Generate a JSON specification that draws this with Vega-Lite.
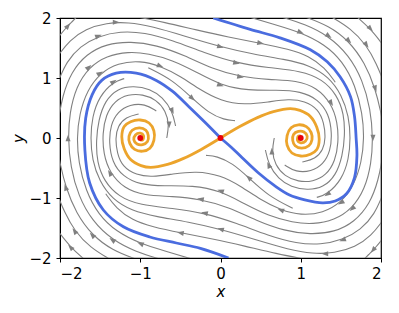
{
"$schema":"https://vega.github.io/schema/vega-lite/v6.json",
"width":321,"height":240,
"autosize":{"type":"none"},
"padding":{"left":60,"top":18,"right":18,"bottom":55},
"config":{"view":{"stroke":"black","strokeWidth":1.2},"font":"DejaVu Sans",
 "axis":{"grid":false,"tickSize":4,"tickColor":"black","domainColor":"black","labelFontSize":15,"labelColor":"black","titleColor":"black","titleFontSize":15,"titleFontWeight":"normal","titleFontStyle":"italic","labelFont":"DejaVu Sans","titleFont":"DejaVu Sans"}},
"datasets":{
"stream":[
{"k":"S0","i":0,"x":-0.9,"y":1.17},{"k":"S0","i":1,"x":-0.6,"y":0.97},{"k":"S0","i":2,"x":-0.35,"y":0.66},{"k":"S0","i":3,"x":-0.15,"y":0.42},{"k":"S0","i":4,"x":0.05,"y":0.3},{"k":"S0","i":5,"x":0.18,"y":0.29},
{"k":"S1","i":0,"x":-0.35,"y":-2.02},{"k":"S1","i":1,"x":-0.7,"y":-1.88},{"k":"S1","i":2,"x":-1.0,"y":-1.76},{"k":"S1","i":3,"x":-1.3,"y":-1.56},{"k":"S1","i":4,"x":-1.52,"y":-1.28},{"k":"S1","i":5,"x":-1.68,"y":-0.88},{"k":"S1","i":6,"x":-1.77,"y":-0.4},{"k":"S1","i":7,"x":-1.79,"y":0.0},{"k":"S1","i":8,"x":-1.76,"y":0.4},{"k":"S1","i":9,"x":-1.66,"y":0.8},{"k":"S1","i":10,"x":-1.5,"y":1.08},{"k":"S1","i":11,"x":-1.28,"y":1.25},{"k":"S1","i":12,"x":-1.0,"y":1.29},{"k":"S1","i":13,"x":-0.75,"y":1.2},{"k":"S1","i":14,"x":-0.5,"y":1.03},{"k":"S1","i":15,"x":-0.25,"y":0.8},{"k":"S1","i":16,"x":0.0,"y":0.62},{"k":"S1","i":17,"x":0.3,"y":0.55},{"k":"S1","i":18,"x":0.6,"y":0.6},{"k":"S1","i":19,"x":0.85,"y":0.65},{"k":"S1","i":20,"x":1.05,"y":0.62},{"k":"S1","i":21,"x":1.22,"y":0.48},{"k":"S1","i":22,"x":1.29,"y":0.25},{"k":"S1","i":23,"x":1.31,"y":0.0},{"k":"S1","i":24,"x":1.28,"y":-0.2},{"k":"S1","i":25,"x":1.18,"y":-0.35},{"k":"S1","i":26,"x":1.02,"y":-0.4},
{"k":"S2","i":0,"x":-0.75,"y":-2.02},{"k":"S2","i":1,"x":-1.05,"y":-1.9},{"k":"S2","i":2,"x":-1.35,"y":-1.7},{"k":"S2","i":3,"x":-1.6,"y":-1.38},{"k":"S2","i":4,"x":-1.77,"y":-0.97},{"k":"S2","i":5,"x":-1.87,"y":-0.48},{"k":"S2","i":6,"x":-1.9,"y":0.0},{"k":"S2","i":7,"x":-1.88,"y":0.42},{"k":"S2","i":8,"x":-1.8,"y":0.85},{"k":"S2","i":9,"x":-1.64,"y":1.18},{"k":"S2","i":10,"x":-1.42,"y":1.37},{"k":"S2","i":11,"x":-1.15,"y":1.44},{"k":"S2","i":12,"x":-0.9,"y":1.41},{"k":"S2","i":13,"x":-0.6,"y":1.3},{"k":"S2","i":14,"x":-0.3,"y":1.1},{"k":"S2","i":15,"x":0.0,"y":0.88},{"k":"S2","i":16,"x":0.35,"y":0.79},{"k":"S2","i":17,"x":0.7,"y":0.8},{"k":"S2","i":18,"x":1.0,"y":0.78},{"k":"S2","i":19,"x":1.22,"y":0.64},{"k":"S2","i":20,"x":1.35,"y":0.4},{"k":"S2","i":21,"x":1.39,"y":0.08},{"k":"S2","i":22,"x":1.37,"y":-0.22},{"k":"S2","i":23,"x":1.28,"y":-0.44},{"k":"S2","i":24,"x":1.13,"y":-0.56},{"k":"S2","i":25,"x":0.94,"y":-0.57},{"k":"S2","i":26,"x":0.8,"y":-0.45},
{"k":"S3","i":0,"x":-2.02,"y":0.3},{"k":"S3","i":1,"x":-1.97,"y":0.7},{"k":"S3","i":2,"x":-1.86,"y":1.1},{"k":"S3","i":3,"x":-1.67,"y":1.4},{"k":"S3","i":4,"x":-1.42,"y":1.57},{"k":"S3","i":5,"x":-1.12,"y":1.61},{"k":"S3","i":6,"x":-0.8,"y":1.55},{"k":"S3","i":7,"x":-0.45,"y":1.38},{"k":"S3","i":8,"x":-0.1,"y":1.15},{"k":"S3","i":9,"x":0.25,"y":1.02},{"k":"S3","i":10,"x":0.6,"y":0.97},{"k":"S3","i":11,"x":0.95,"y":0.96},{"k":"S3","i":12,"x":1.2,"y":0.84},{"k":"S3","i":13,"x":1.38,"y":0.58},{"k":"S3","i":14,"x":1.46,"y":0.26},{"k":"S3","i":15,"x":1.47,"y":-0.08},{"k":"S3","i":16,"x":1.43,"y":-0.38},{"k":"S3","i":17,"x":1.32,"y":-0.62},{"k":"S3","i":18,"x":1.15,"y":-0.73},{"k":"S3","i":19,"x":0.97,"y":-0.73},{"k":"S3","i":20,"x":0.8,"y":-0.64},{"k":"S3","i":21,"x":0.68,"y":-0.45},{"k":"S3","i":22,"x":0.64,"y":-0.22},{"k":"S3","i":23,"x":0.67,"y":0.0},
{"k":"S4","i":0,"x":-2.02,"y":0.95},{"k":"S4","i":1,"x":-1.92,"y":1.27},{"k":"S4","i":2,"x":-1.75,"y":1.53},{"k":"S4","i":3,"x":-1.52,"y":1.7},{"k":"S4","i":4,"x":-1.25,"y":1.78},{"k":"S4","i":5,"x":-0.95,"y":1.76},{"k":"S4","i":6,"x":-0.6,"y":1.63},{"k":"S4","i":7,"x":-0.2,"y":1.42},{"k":"S4","i":8,"x":0.2,"y":1.25},{"k":"S4","i":9,"x":0.6,"y":1.17},{"k":"S4","i":10,"x":1.0,"y":1.12},{"k":"S4","i":11,"x":1.27,"y":0.98},{"k":"S4","i":12,"x":1.45,"y":0.72},{"k":"S4","i":13,"x":1.54,"y":0.4},{"k":"S4","i":14,"x":1.55,"y":0.04},{"k":"S4","i":15,"x":1.52,"y":-0.3},{"k":"S4","i":16,"x":1.44,"y":-0.62},{"k":"S4","i":17,"x":1.28,"y":-0.83},{"k":"S4","i":18,"x":1.08,"y":-0.87},{"k":"S4","i":19,"x":0.88,"y":-0.82},{"k":"S4","i":20,"x":0.72,"y":-0.68},{"k":"S4","i":21,"x":0.6,"y":-0.45},{"k":"S4","i":22,"x":0.56,"y":-0.2},
{"k":"S5","i":0,"x":-2.02,"y":1.38},{"k":"S5","i":1,"x":-1.88,"y":1.63},{"k":"S5","i":2,"x":-1.68,"y":1.82},{"k":"S5","i":3,"x":-1.42,"y":1.92},{"k":"S5","i":4,"x":-1.15,"y":1.93},{"k":"S5","i":5,"x":-0.85,"y":1.86},{"k":"S5","i":6,"x":-0.45,"y":1.7},{"k":"S5","i":7,"x":0.0,"y":1.52},{"k":"S5","i":8,"x":0.4,"y":1.4},{"k":"S5","i":9,"x":0.8,"y":1.31},{"k":"S5","i":10,"x":1.1,"y":1.22},{"k":"S5","i":11,"x":1.35,"y":1.02},{"k":"S5","i":12,"x":1.51,"y":0.72},{"k":"S5","i":13,"x":1.6,"y":0.36},{"k":"S5","i":14,"x":1.62,"y":0.0},{"k":"S5","i":15,"x":1.6,"y":-0.35},{"k":"S5","i":16,"x":1.51,"y":-0.7},{"k":"S5","i":17,"x":1.33,"y":-0.94},{"k":"S5","i":18,"x":1.2,"y":-0.99},
{"k":"S6","i":0,"x":-1.05,"y":2.02},{"k":"S6","i":1,"x":-0.7,"y":1.93},{"k":"S6","i":2,"x":-0.3,"y":1.8},{"k":"S6","i":3,"x":0.1,"y":1.68},{"k":"S6","i":4,"x":0.5,"y":1.58},{"k":"S6","i":5,"x":0.85,"y":1.48},{"k":"S6","i":6,"x":1.1,"y":1.37},{"k":"S6","i":7,"x":1.3,"y":1.17},{"k":"S6","i":8,"x":1.43,"y":0.93},
{"k":"E1","i":0,"x":-2.02,"y":1.68},{"k":"E1","i":1,"x":-1.93,"y":1.83},{"k":"E1","i":2,"x":-1.84,"y":1.95},{"k":"E1","i":3,"x":-1.79,"y":2.02},
{"k":"X1","i":0,"x":-1.05,"y":-2.02},{"k":"X1","i":1,"x":-1.35,"y":-1.87},{"k":"X1","i":2,"x":-1.6,"y":-1.62},{"k":"X1","i":3,"x":-1.8,"y":-1.25},{"k":"X1","i":4,"x":-1.93,"y":-0.82},{"k":"X1","i":5,"x":-2.0,"y":-0.42},{"k":"X1","i":6,"x":-2.02,"y":-0.25},
{"k":"X2","i":0,"x":-1.38,"y":-2.02},{"k":"X2","i":1,"x":-1.62,"y":-1.83},{"k":"X2","i":2,"x":-1.82,"y":-1.55},{"k":"X2","i":3,"x":-1.95,"y":-1.22},{"k":"X2","i":4,"x":-2.02,"y":-0.98},
{"k":"X3","i":0,"x":-1.7,"y":-2.02},{"k":"X3","i":1,"x":-1.87,"y":-1.82},{"k":"X3","i":2,"x":-2.02,"y":-1.56},
{"k":"S0m","i":0,"x":0.9,"y":-1.17},{"k":"S0m","i":1,"x":0.6,"y":-0.97},{"k":"S0m","i":2,"x":0.35,"y":-0.66},{"k":"S0m","i":3,"x":0.15,"y":-0.42},{"k":"S0m","i":4,"x":-0.05,"y":-0.3},{"k":"S0m","i":5,"x":-0.18,"y":-0.29},
{"k":"S1m","i":0,"x":0.35,"y":2.02},{"k":"S1m","i":1,"x":0.7,"y":1.88},{"k":"S1m","i":2,"x":1.0,"y":1.76},{"k":"S1m","i":3,"x":1.3,"y":1.56},{"k":"S1m","i":4,"x":1.52,"y":1.28},{"k":"S1m","i":5,"x":1.68,"y":0.88},{"k":"S1m","i":6,"x":1.77,"y":0.4},{"k":"S1m","i":7,"x":1.79,"y":0.0},{"k":"S1m","i":8,"x":1.76,"y":-0.4},{"k":"S1m","i":9,"x":1.66,"y":-0.8},{"k":"S1m","i":10,"x":1.5,"y":-1.08},{"k":"S1m","i":11,"x":1.28,"y":-1.25},{"k":"S1m","i":12,"x":1.0,"y":-1.29},{"k":"S1m","i":13,"x":0.75,"y":-1.2},{"k":"S1m","i":14,"x":0.5,"y":-1.03},{"k":"S1m","i":15,"x":0.25,"y":-0.8},{"k":"S1m","i":16,"x":0.0,"y":-0.62},{"k":"S1m","i":17,"x":-0.3,"y":-0.55},{"k":"S1m","i":18,"x":-0.6,"y":-0.6},{"k":"S1m","i":19,"x":-0.85,"y":-0.65},{"k":"S1m","i":20,"x":-1.05,"y":-0.62},{"k":"S1m","i":21,"x":-1.22,"y":-0.48},{"k":"S1m","i":22,"x":-1.29,"y":-0.25},{"k":"S1m","i":23,"x":-1.31,"y":0.0},{"k":"S1m","i":24,"x":-1.28,"y":0.2},{"k":"S1m","i":25,"x":-1.18,"y":0.35},{"k":"S1m","i":26,"x":-1.02,"y":0.4},
{"k":"S2m","i":0,"x":0.75,"y":2.02},{"k":"S2m","i":1,"x":1.05,"y":1.9},{"k":"S2m","i":2,"x":1.35,"y":1.7},{"k":"S2m","i":3,"x":1.6,"y":1.38},{"k":"S2m","i":4,"x":1.77,"y":0.97},{"k":"S2m","i":5,"x":1.87,"y":0.48},{"k":"S2m","i":6,"x":1.9,"y":0.0},{"k":"S2m","i":7,"x":1.88,"y":-0.42},{"k":"S2m","i":8,"x":1.8,"y":-0.85},{"k":"S2m","i":9,"x":1.64,"y":-1.18},{"k":"S2m","i":10,"x":1.42,"y":-1.37},{"k":"S2m","i":11,"x":1.15,"y":-1.44},{"k":"S2m","i":12,"x":0.9,"y":-1.41},{"k":"S2m","i":13,"x":0.6,"y":-1.3},{"k":"S2m","i":14,"x":0.3,"y":-1.1},{"k":"S2m","i":15,"x":0.0,"y":-0.88},{"k":"S2m","i":16,"x":-0.35,"y":-0.79},{"k":"S2m","i":17,"x":-0.7,"y":-0.8},{"k":"S2m","i":18,"x":-1.0,"y":-0.78},{"k":"S2m","i":19,"x":-1.22,"y":-0.64},{"k":"S2m","i":20,"x":-1.35,"y":-0.4},{"k":"S2m","i":21,"x":-1.39,"y":-0.08},{"k":"S2m","i":22,"x":-1.37,"y":0.22},{"k":"S2m","i":23,"x":-1.28,"y":0.44},{"k":"S2m","i":24,"x":-1.13,"y":0.56},{"k":"S2m","i":25,"x":-0.94,"y":0.57},{"k":"S2m","i":26,"x":-0.8,"y":0.45},
{"k":"S3m","i":0,"x":2.02,"y":-0.3},{"k":"S3m","i":1,"x":1.97,"y":-0.7},{"k":"S3m","i":2,"x":1.86,"y":-1.1},{"k":"S3m","i":3,"x":1.67,"y":-1.4},{"k":"S3m","i":4,"x":1.42,"y":-1.57},{"k":"S3m","i":5,"x":1.12,"y":-1.61},{"k":"S3m","i":6,"x":0.8,"y":-1.55},{"k":"S3m","i":7,"x":0.45,"y":-1.38},{"k":"S3m","i":8,"x":0.1,"y":-1.15},{"k":"S3m","i":9,"x":-0.25,"y":-1.02},{"k":"S3m","i":10,"x":-0.6,"y":-0.97},{"k":"S3m","i":11,"x":-0.95,"y":-0.96},{"k":"S3m","i":12,"x":-1.2,"y":-0.84},{"k":"S3m","i":13,"x":-1.38,"y":-0.58},{"k":"S3m","i":14,"x":-1.46,"y":-0.26},{"k":"S3m","i":15,"x":-1.47,"y":0.08},{"k":"S3m","i":16,"x":-1.43,"y":0.38},{"k":"S3m","i":17,"x":-1.32,"y":0.62},{"k":"S3m","i":18,"x":-1.15,"y":0.73},{"k":"S3m","i":19,"x":-0.97,"y":0.73},{"k":"S3m","i":20,"x":-0.8,"y":0.64},{"k":"S3m","i":21,"x":-0.68,"y":0.45},{"k":"S3m","i":22,"x":-0.64,"y":0.22},{"k":"S3m","i":23,"x":-0.67,"y":0.0},
{"k":"S4m","i":0,"x":2.02,"y":-0.95},{"k":"S4m","i":1,"x":1.92,"y":-1.27},{"k":"S4m","i":2,"x":1.75,"y":-1.53},{"k":"S4m","i":3,"x":1.52,"y":-1.7},{"k":"S4m","i":4,"x":1.25,"y":-1.78},{"k":"S4m","i":5,"x":0.95,"y":-1.76},{"k":"S4m","i":6,"x":0.6,"y":-1.63},{"k":"S4m","i":7,"x":0.2,"y":-1.42},{"k":"S4m","i":8,"x":-0.2,"y":-1.25},{"k":"S4m","i":9,"x":-0.6,"y":-1.17},{"k":"S4m","i":10,"x":-1.0,"y":-1.12},{"k":"S4m","i":11,"x":-1.27,"y":-0.98},{"k":"S4m","i":12,"x":-1.45,"y":-0.72},{"k":"S4m","i":13,"x":-1.54,"y":-0.4},{"k":"S4m","i":14,"x":-1.55,"y":-0.04},{"k":"S4m","i":15,"x":-1.52,"y":0.3},{"k":"S4m","i":16,"x":-1.44,"y":0.62},{"k":"S4m","i":17,"x":-1.28,"y":0.83},{"k":"S4m","i":18,"x":-1.08,"y":0.87},{"k":"S4m","i":19,"x":-0.88,"y":0.82},{"k":"S4m","i":20,"x":-0.72,"y":0.68},{"k":"S4m","i":21,"x":-0.6,"y":0.45},{"k":"S4m","i":22,"x":-0.56,"y":0.2},
{"k":"S5m","i":0,"x":2.02,"y":-1.38},{"k":"S5m","i":1,"x":1.88,"y":-1.63},{"k":"S5m","i":2,"x":1.68,"y":-1.82},{"k":"S5m","i":3,"x":1.42,"y":-1.92},{"k":"S5m","i":4,"x":1.15,"y":-1.93},{"k":"S5m","i":5,"x":0.85,"y":-1.86},{"k":"S5m","i":6,"x":0.45,"y":-1.7},{"k":"S5m","i":7,"x":0.0,"y":-1.52},{"k":"S5m","i":8,"x":-0.4,"y":-1.4},{"k":"S5m","i":9,"x":-0.8,"y":-1.31},{"k":"S5m","i":10,"x":-1.1,"y":-1.22},{"k":"S5m","i":11,"x":-1.35,"y":-1.02},{"k":"S5m","i":12,"x":-1.51,"y":-0.72},{"k":"S5m","i":13,"x":-1.6,"y":-0.36},{"k":"S5m","i":14,"x":-1.62,"y":0.0},{"k":"S5m","i":15,"x":-1.6,"y":0.35},{"k":"S5m","i":16,"x":-1.51,"y":0.7},{"k":"S5m","i":17,"x":-1.33,"y":0.94},{"k":"S5m","i":18,"x":-1.2,"y":0.99},
{"k":"S6m","i":0,"x":1.05,"y":-2.02},{"k":"S6m","i":1,"x":0.7,"y":-1.93},{"k":"S6m","i":2,"x":0.3,"y":-1.8},{"k":"S6m","i":3,"x":-0.1,"y":-1.68},{"k":"S6m","i":4,"x":-0.5,"y":-1.58},{"k":"S6m","i":5,"x":-0.85,"y":-1.48},{"k":"S6m","i":6,"x":-1.1,"y":-1.37},{"k":"S6m","i":7,"x":-1.3,"y":-1.17},{"k":"S6m","i":8,"x":-1.43,"y":-0.93},
{"k":"E1m","i":0,"x":2.02,"y":-1.68},{"k":"E1m","i":1,"x":1.93,"y":-1.83},{"k":"E1m","i":2,"x":1.84,"y":-1.95},{"k":"E1m","i":3,"x":1.79,"y":-2.02},
{"k":"X1m","i":0,"x":1.05,"y":2.02},{"k":"X1m","i":1,"x":1.35,"y":1.87},{"k":"X1m","i":2,"x":1.6,"y":1.62},{"k":"X1m","i":3,"x":1.8,"y":1.25},{"k":"X1m","i":4,"x":1.93,"y":0.82},{"k":"X1m","i":5,"x":2.0,"y":0.42},{"k":"X1m","i":6,"x":2.02,"y":0.25},
{"k":"X2m","i":0,"x":1.38,"y":2.02},{"k":"X2m","i":1,"x":1.62,"y":1.83},{"k":"X2m","i":2,"x":1.82,"y":1.55},{"k":"X2m","i":3,"x":1.95,"y":1.22},{"k":"X2m","i":4,"x":2.02,"y":0.98},
{"k":"X3m","i":0,"x":1.7,"y":2.02},{"k":"X3m","i":1,"x":1.87,"y":1.82},{"k":"X3m","i":2,"x":2.02,"y":1.56}
],
"arrows":[
{"x":-1.9,"y":1.87,"angle":-51},{"x":-1.3,"y":1.93,"angle":0},{"x":-1.64,"y":1.18,"angle":-42},{"x":-1.5,"y":1.08,"angle":-30},{"x":-0.75,"y":1.2,"angle":21},{"x":-0.35,"y":0.66,"angle":42},{"x":0.0,"y":0.88,"angle":20},{"x":0.25,"y":1.02,"angle":11},{"x":0.2,"y":1.25,"angle":13},{"x":0.0,"y":1.52,"angle":15},{"x":1.38,"y":0.58,"angle":59},{"x":-1.93,"y":-0.82,"angle":-108},{"x":-1.82,"y":-1.55,"angle":-126},{"x":-1.6,"y":-1.62,"angle":-134},{"x":-1.87,"y":-1.82,"angle":-133},{"x":-1.9,"y":0.0,"angle":-90},{"x":-1.0,"y":-1.76,"angle":-158},{"x":-1.35,"y":-1.7,"angle":-145},{"x":1.33,"y":-0.94,"angle":145},{"x":0.64,"y":-0.22,"angle":-91},{"x":0.6,"y":-0.45,"angle":-114},{"x":0.5,"y":1.58,"angle":11},{"x":-1.52,"y":1.7,"angle":-20},
{"x":1.9,"y":-1.87,"angle":129},{"x":1.3,"y":-1.93,"angle":180},{"x":1.64,"y":-1.18,"angle":138},{"x":1.5,"y":-1.08,"angle":150},{"x":0.75,"y":-1.2,"angle":201},{"x":0.35,"y":-0.66,"angle":222},{"x":0.0,"y":-0.88,"angle":200},{"x":-0.25,"y":-1.02,"angle":191},{"x":-0.2,"y":-1.25,"angle":193},{"x":0.0,"y":-1.52,"angle":195},{"x":-1.38,"y":-0.58,"angle":239},{"x":1.93,"y":0.82,"angle":72},{"x":1.82,"y":1.55,"angle":54},{"x":1.6,"y":1.62,"angle":46},{"x":1.87,"y":1.82,"angle":47},{"x":1.9,"y":0.0,"angle":90},{"x":1.0,"y":1.76,"angle":22},{"x":1.35,"y":1.7,"angle":35},{"x":-1.33,"y":0.94,"angle":-35},{"x":-0.64,"y":0.22,"angle":89},{"x":-0.6,"y":0.45,"angle":66},{"x":-0.5,"y":-1.58,"angle":191},{"x":1.52,"y":-1.7,"angle":160}
],
"blue":[
{"k":"A","i":0,"x":-0.09,"y":2.0},{"k":"A","i":1,"x":0.37,"y":1.81},{"k":"A","i":2,"x":0.74,"y":1.67},{"k":"A","i":3,"x":1.12,"y":1.47},{"k":"A","i":4,"x":1.33,"y":1.27},{"k":"A","i":5,"x":1.49,"y":1.02},{"k":"A","i":6,"x":1.62,"y":0.69},{"k":"A","i":7,"x":1.67,"y":0.36},{"k":"A","i":8,"x":1.69,"y":0.0},{"k":"A","i":9,"x":1.7,"y":-0.3},{"k":"A","i":10,"x":1.67,"y":-0.66},{"k":"A","i":11,"x":1.57,"y":-0.93},{"k":"A","i":12,"x":1.43,"y":-1.05},{"k":"A","i":13,"x":1.27,"y":-1.08},{"k":"A","i":14,"x":1.05,"y":-1.03},{"k":"A","i":15,"x":0.86,"y":-0.95},{"k":"A","i":16,"x":0.69,"y":-0.81},{"k":"A","i":17,"x":0.47,"y":-0.58},{"k":"A","i":18,"x":0.27,"y":-0.33},{"k":"A","i":19,"x":0.13,"y":-0.15},{"k":"A","i":20,"x":0.0,"y":0.0},
{"k":"B","i":0,"x":0.1,"y":-2.0},{"k":"B","i":1,"x":-0.25,"y":-1.84},{"k":"B","i":2,"x":-0.55,"y":-1.75},{"k":"B","i":3,"x":-0.88,"y":-1.65},{"k":"B","i":4,"x":-1.21,"y":-1.48},{"k":"B","i":5,"x":-1.46,"y":-1.2},{"k":"B","i":6,"x":-1.63,"y":-0.75},{"k":"B","i":7,"x":-1.69,"y":-0.2},{"k":"B","i":8,"x":-1.68,"y":0.33},{"k":"B","i":9,"x":-1.6,"y":0.72},{"k":"B","i":10,"x":-1.48,"y":0.96},{"k":"B","i":11,"x":-1.3,"y":1.08},{"k":"B","i":12,"x":-1.05,"y":1.08},{"k":"B","i":13,"x":-0.8,"y":0.96},{"k":"B","i":14,"x":-0.6,"y":0.78},{"k":"B","i":15,"x":-0.4,"y":0.53},{"k":"B","i":16,"x":-0.2,"y":0.27},{"k":"B","i":17,"x":0.0,"y":0.0}
],
"orange":[
{"k":"O","i":0,"x":0.0,"y":0.0},{"k":"O","i":1,"x":0.24,"y":0.19},{"k":"O","i":2,"x":0.46,"y":0.34},{"k":"O","i":3,"x":0.66,"y":0.44},{"k":"O","i":4,"x":0.87,"y":0.49},{"k":"O","i":5,"x":0.99,"y":0.46},{"k":"O","i":6,"x":1.12,"y":0.36},{"k":"O","i":7,"x":1.2,"y":0.18},{"k":"O","i":8,"x":1.23,"y":-0.02},{"k":"O","i":9,"x":1.2,"y":-0.19},{"k":"O","i":10,"x":1.12,"y":-0.27},{"k":"O","i":11,"x":1.0,"y":-0.3},{"k":"O","i":12,"x":0.89,"y":-0.25},{"k":"O","i":13,"x":0.83,"y":-0.12},{"k":"O","i":14,"x":0.83,"y":0.04},{"k":"O","i":15,"x":0.88,"y":0.17},{"k":"O","i":16,"x":0.97,"y":0.22},{"k":"O","i":17,"x":1.07,"y":0.19},{"k":"O","i":18,"x":1.13,"y":0.09},{"k":"O","i":19,"x":1.14,"y":-0.03},{"k":"O","i":20,"x":1.1,"y":-0.13},{"k":"O","i":21,"x":1.01,"y":-0.17},{"k":"O","i":22,"x":0.93,"y":-0.13},{"k":"O","i":23,"x":0.9,"y":-0.04},{"k":"O","i":24,"x":0.91,"y":0.06},{"k":"O","i":25,"x":0.97,"y":0.11},{"k":"O","i":26,"x":1.04,"y":0.1},{"k":"O","i":27,"x":1.08,"y":0.03},{"k":"O","i":28,"x":1.06,"y":-0.05},{"k":"O","i":29,"x":1.0,"y":-0.08},{"k":"O","i":30,"x":0.96,"y":-0.04},{"k":"O","i":31,"x":0.97,"y":0.03},{"k":"O","i":32,"x":1.0,"y":0.03},
{"k":"Om","i":0,"x":0.0,"y":0.0},{"k":"Om","i":1,"x":-0.24,"y":-0.19},{"k":"Om","i":2,"x":-0.46,"y":-0.34},{"k":"Om","i":3,"x":-0.66,"y":-0.44},{"k":"Om","i":4,"x":-0.87,"y":-0.49},{"k":"Om","i":5,"x":-0.99,"y":-0.46},{"k":"Om","i":6,"x":-1.12,"y":-0.36},{"k":"Om","i":7,"x":-1.2,"y":-0.18},{"k":"Om","i":8,"x":-1.23,"y":0.02},{"k":"Om","i":9,"x":-1.2,"y":0.19},{"k":"Om","i":10,"x":-1.12,"y":0.27},{"k":"Om","i":11,"x":-1.0,"y":0.3},{"k":"Om","i":12,"x":-0.89,"y":0.25},{"k":"Om","i":13,"x":-0.83,"y":0.12},{"k":"Om","i":14,"x":-0.83,"y":-0.04},{"k":"Om","i":15,"x":-0.88,"y":-0.17},{"k":"Om","i":16,"x":-0.97,"y":-0.22},{"k":"Om","i":17,"x":-1.07,"y":-0.19},{"k":"Om","i":18,"x":-1.13,"y":-0.09},{"k":"Om","i":19,"x":-1.14,"y":0.03},{"k":"Om","i":20,"x":-1.1,"y":0.13},{"k":"Om","i":21,"x":-1.01,"y":0.17},{"k":"Om","i":22,"x":-0.93,"y":0.13},{"k":"Om","i":23,"x":-0.9,"y":0.04},{"k":"Om","i":24,"x":-0.91,"y":-0.06},{"k":"Om","i":25,"x":-0.97,"y":-0.11},{"k":"Om","i":26,"x":-1.04,"y":-0.1},{"k":"Om","i":27,"x":-1.08,"y":-0.03},{"k":"Om","i":28,"x":-1.06,"y":0.05},{"k":"Om","i":29,"x":-1.0,"y":0.08},{"k":"Om","i":30,"x":-0.96,"y":0.04},{"k":"Om","i":31,"x":-0.97,"y":-0.03},{"k":"Om","i":32,"x":-1.0,"y":-0.03}
],
"fixed":[{"x":-1,"y":0},{"x":0,"y":0},{"x":1,"y":0}]
},
"encoding":{
 "x":{"field":"x","type":"quantitative","scale":{"domain":[-2,2],"nice":false,"zero":false},"axis":{"values":[-2,-1,0,1,2],"format":"d","title":"x","labelPadding":4,"titlePadding":3}},
 "y":{"field":"y","type":"quantitative","scale":{"domain":[-2,2],"nice":false,"zero":false},"axis":{"values":[-2,-1,0,1,2],"format":"d","title":"y","labelPadding":5,"titlePadding":2}}
},
"layer":[
 {"data":{"name":"stream"},"mark":{"type":"line","color":"#808080","strokeWidth":1.1,"clip":true,"interpolate":"basis"},"encoding":{"detail":{"field":"k"},"order":{"field":"i"}}},
 {"data":{"name":"arrows"},"mark":{"type":"point","filled":true,"color":"#808080","opacity":1,"shape":"M1,0L-1,-0.75L-1,0.75Z","size":45,"clip":true},"encoding":{"angle":{"field":"angle","type":"quantitative","scale":null}}},
 {"data":{"name":"blue"},"mark":{"type":"line","color":"#4a6cdf","strokeWidth":2.8,"clip":true,"interpolate":"catmull-rom"},"encoding":{"detail":{"field":"k"},"order":{"field":"i"}}},
 {"data":{"name":"orange"},"mark":{"type":"line","color":"#eca42c","strokeWidth":2.8,"clip":true,"interpolate":"catmull-rom"},"encoding":{"detail":{"field":"k"},"order":{"field":"i"}}},
 {"data":{"name":"fixed"},"mark":{"type":"point","filled":true,"color":"#e8000b","opacity":1,"size":34},"encoding":{}}
]
}
